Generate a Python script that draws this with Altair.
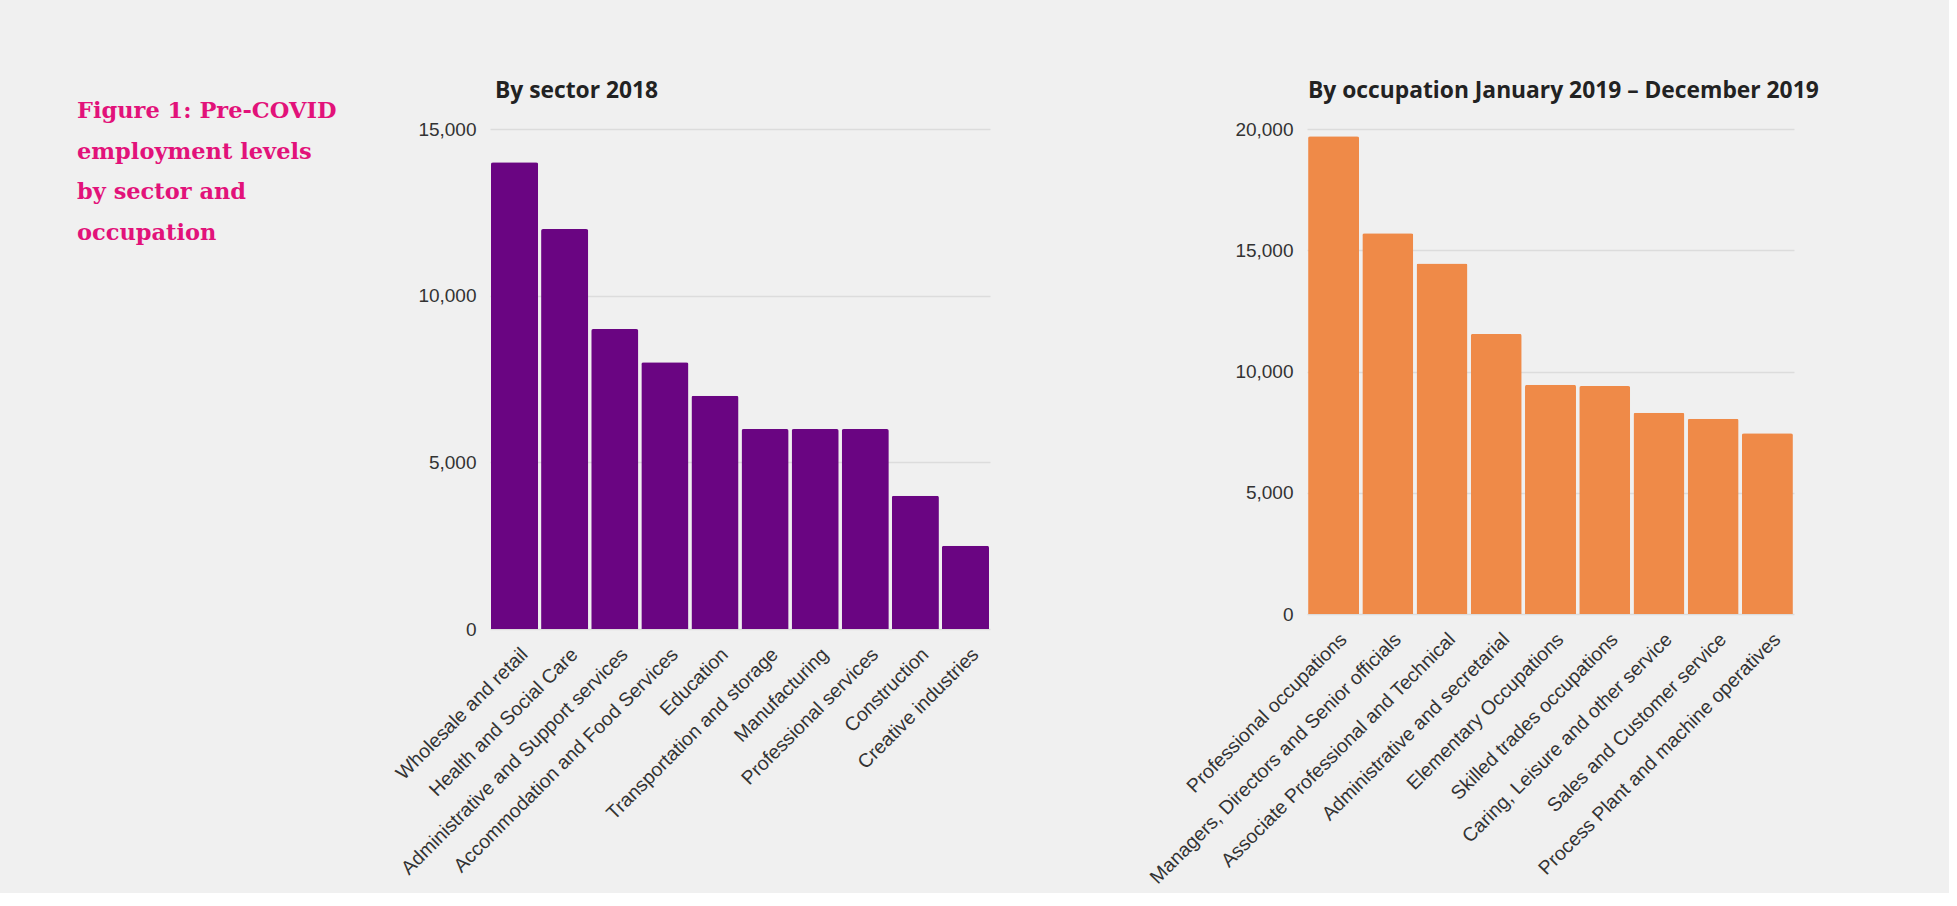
import altair as alt
import pandas as pd

# ---- data ----
heading_lines = ["Figure 1: Pre-COVID", "employment levels", "by sector and", "occupation"]

sectors = [
    "Wholesale and retail",
    "Health and Social Care",
    "Administrative and Support services",
    "Accommodation and Food Services",
    "Education",
    "Transportation and storage",
    "Manufacturing",
    "Professional services",
    "Construction",
    "Creative industries",
]
sector_values = [14000, 12000, 9000, 8000, 7000, 6000, 6000, 6000, 4000, 2500]

occupations = [
    "Professional occupations",
    "Managers, Directors and Senior officials",
    "Associate Professional and Technical",
    "Administrative and secretarial",
    "Elementary Occupations",
    "Skilled trades occupations",
    "Caring, Leisure and other service",
    "Sales and Customer service",
    "Process Plant and machine operatives",
]
occupation_values = [19700, 15700, 14450, 11550, 9450, 9400, 8300, 8050, 7450]

sector_ticks = [0, 5000, 10000, 15000]
occupation_ticks = [0, 5000, 10000, 15000, 20000]

# ---- styling ----
BG = "#f0f0f0"
PINK = "#e2127a"
PURPLE = "#6a0582"
ORANGE = "#ef8a48"
LABEL_FONT = "Liberation Sans"
TITLE_FONT = "Open Sans"

df_s = pd.DataFrame({"sector": sectors, "value": sector_values})
df_o = pd.DataFrame({"occupation": occupations, "value": occupation_values})
df_h = pd.DataFrame({"text": ["\n".join(heading_lines)]})


def y_axis(vals):
    return alt.Axis(
        values=vals, format=",d", title=None, domain=False, ticks=False,
        labelPadding=14, labelFontSize=19, labelColor="#333", labelFont=LABEL_FONT,
        gridColor="#dcdcdc", gridWidth=1.5,
    )


def x_axis():
    return alt.Axis(
        title=None, labelAngle=-45, labelAlign="right", labelBaseline="middle",
        domain=False, ticks=False, labelPadding=22, labelOffset=10,
        labelFontSize=19.5, labelColor="#333", labelFont=LABEL_FONT,
        labelLimit=600, labelOverlap=False,
    )


def chart_title(text, dx):
    return alt.Title(
        text, anchor="start", frame="group", dx=dx, offset=17,
        fontSize=22.8, font=TITLE_FONT, fontWeight="bold", color="#222",
    )


heading = alt.Chart(df_h).mark_text(
    align="left", baseline="alphabetic", font="DejaVu Serif", fontSize=22.5,
    fontWeight="bold", lineHeight=40.5, color=PINK, lineBreak="\n",
).encode(
    text="text:N", x=alt.value(72), y=alt.value(-11),
).properties(width=168, height=100)

left = alt.Chart(df_s, title=chart_title("By sector 2018", 5)).mark_bar(
    color=PURPLE, cornerRadiusTopLeft=2, cornerRadiusTopRight=2,
).encode(
    x=alt.X("sector:N", sort=None, axis=x_axis(),
            scale=alt.Scale(paddingInner=0.06, paddingOuter=0.02)),
    y=alt.Y("value:Q", axis=y_axis(sector_ticks),
            scale=alt.Scale(domain=[0, 15000], nice=False)),
).properties(width=500, height=500)

right = alt.Chart(df_o, title=chart_title("By occupation January 2019 \u2013 December 2019", 1)).mark_bar(
    color=ORANGE, cornerRadiusTopLeft=2, cornerRadiusTopRight=2,
).encode(
    x=alt.X("occupation:N", sort=None, axis=x_axis(),
            scale=alt.Scale(paddingInner=0.06, paddingOuter=0.02)),
    y=alt.Y("value:Q", axis=y_axis(occupation_ticks),
            scale=alt.Scale(domain=[0, 20000], nice=False)),
).properties(width=487, height=485)

chart = alt.hconcat(heading, left, right, spacing=317, bounds="flush").properties(
    background=BG,
    padding={"left": 5, "top": 80, "right": 130, "bottom": 6},
).configure_view(stroke=None)

chart.save("out.html", embed_options={"renderer": "svg", "actions": False})
